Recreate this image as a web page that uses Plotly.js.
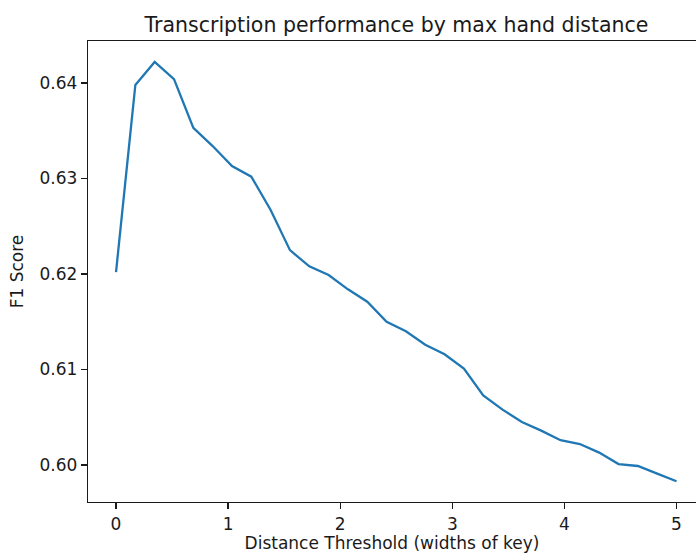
<!DOCTYPE html>
<html>
<head>
<meta charset="utf-8">
<script src="https://cdn.plot.ly/plotly-3.0.1.min.js"></script>
<style>html,body{margin:0;padding:0;overflow:hidden;background:#fff}</style>
</head>
<body>
<div id="chart" style="width:696px;height:553px"></div>
<script>
// 30 thresholds evenly spaced from 0 to 5 (widths of key)
const thresholds = [0, 0.1724, 0.3448, 0.5172, 0.6897, 0.8621, 1.0345, 1.2069, 1.3793, 1.5517,
  1.7241, 1.8966, 2.0690, 2.2414, 2.4138, 2.5862, 2.7586, 2.9310, 3.1034, 3.2759,
  3.4483, 3.6207, 3.7931, 3.9655, 4.1379, 4.3103, 4.4828, 4.6552, 4.8276, 5.0];
const f1Scores = [0.6202, 0.6398, 0.6422, 0.6404, 0.6353, 0.6334, 0.6313, 0.6302, 0.6267, 0.6225,
  0.6208, 0.6199, 0.6184, 0.6171, 0.6150, 0.6140, 0.6126, 0.6116, 0.6101, 0.6073,
  0.6058, 0.6045, 0.6036, 0.6026, 0.6022, 0.6013, 0.6001, 0.5999, 0.5991, 0.5983];
const xTicks = [0, 1, 2, 3, 4, 5];
const yTicks = [0.60, 0.61, 0.62, 0.63, 0.64];
const yTickLabels = ["0.60", "0.61", "0.62", "0.63", "0.64"];

const tickFont = {family: "DejaVu Sans", size: 17, color: "#1a1a1a"};
const labelFont = {family: "DejaVu Sans", size: 17, color: "#1a1a1a"};
const trace = {
  x: thresholds, y: f1Scores, type: "scatter", mode: "lines",
  line: {color: "#1f77b4", width: 2.3}, hoverinfo: "skip"
};
const layout = {
  width: 696, height: 553,
  margin: {l: 88, r: 0, t: 41, b: 51},
  paper_bgcolor: "#fff", plot_bgcolor: "#fff",
  font: tickFont, showlegend: false,
  title: {text: "Transcription performance by max hand distance", xref: "container", x: 0.5697, xanchor: "center",
          yref: "container", y: 1 - 25/553, yanchor: "middle", font: {family: "DejaVu Sans", size: 20.5, color: "#1a1a1a"}},
  xaxis: {range: [-0.25, 5.174], tickvals: xTicks, ticktext: xTicks.map(String), tickfont: tickFont,
          showgrid: false, zeroline: false, showline: true, mirror: true, linecolor: "#1a1a1a", linewidth: 1.3,
          ticks: "outside", ticklen: 6, tickwidth: 1.3, tickcolor: "#1a1a1a",
          title: {text: "Distance Threshold (widths of key)", font: labelFont, standoff: 5}},
  yaxis: {range: [0.59613, 0.6444], tickvals: yTicks, ticktext: yTickLabels, tickfont: tickFont,
          showgrid: false, zeroline: false, showline: true, mirror: false, linecolor: "#1a1a1a", linewidth: 1.3,
          ticks: "outside", ticklen: 6, tickwidth: 1.3, tickcolor: "#1a1a1a",
          title: {text: "F1 Score", font: labelFont, standoff: 11}}
};
Plotly.newPlot("chart", [trace], layout, {staticPlot: true, displayModeBar: false});
</script>
</body>
</html>
